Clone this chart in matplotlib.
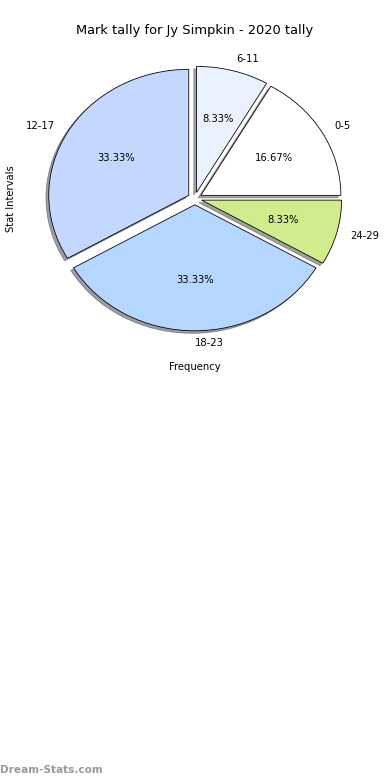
import matplotlib
matplotlib.use("Agg")
import matplotlib.pyplot as plt

# mark tally per interval
intervals = ["0-5", "6-11", "12-17", "18-23", "24-29"]
counts = [2, 1, 4, 4, 1]
colors = ["#ffffff", "#eaf2ff", "#c4d8ff", "#b5d6ff", "#d0ec8c"]
explode = [0.05, 0.05, 0.05, 0.05, 0.05]

fig = plt.figure(figsize=(390 / 72, 780 / 72), dpi=72)
ax = fig.add_axes([19.8 / 390, 1 - 356 / 780, 350 / 390, 315 / 780])

ax.pie(counts, labels=intervals, colors=colors, explode=explode,
       autopct="%1.2f%%", shadow=True, startangle=0,
       wedgeprops={"edgecolor": "black", "linewidth": 0.8})
ax.set_aspect("auto")
ax.set_xlim(-1.25, 1.25)
ax.set_ylim(-1.25, 1.25)

ax.set_title("Mark tally for Jy Simpkin - 2020 tally", fontsize=13, pad=7)
ax.set_xlabel("Frequency", labelpad=6)
ax.set_ylabel("Stat Intervals")

fig.text(0.0, 10 / 780, "Dream-Stats.com", color="#999999", fontsize=10.5,
         fontweight="bold", ha="left", va="center")

fig.savefig("out.png", dpi=72)
